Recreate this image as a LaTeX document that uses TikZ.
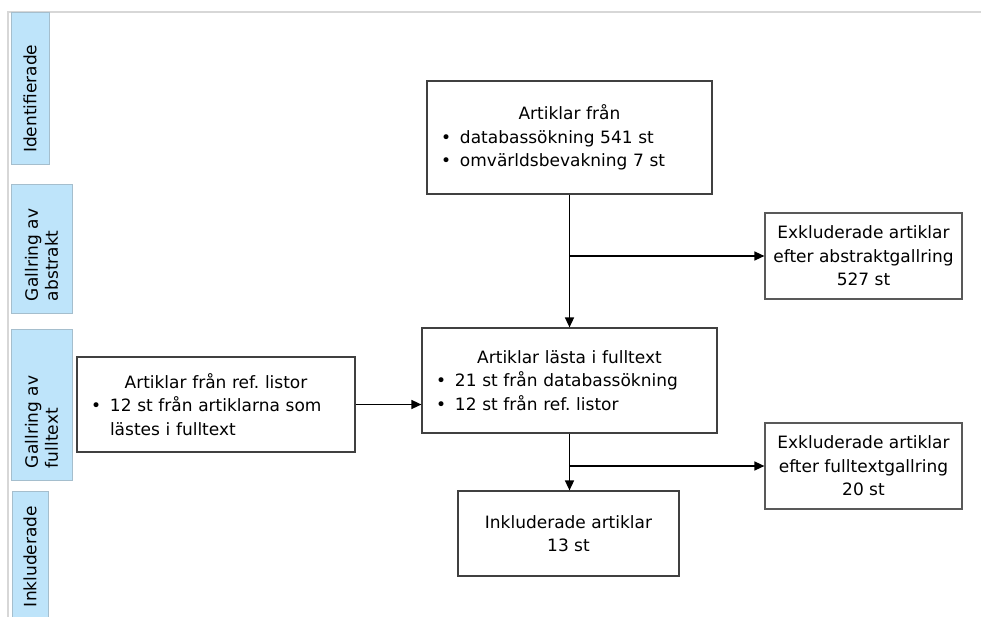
\documentclass[tikz,border=0pt]{standalone}
\usepackage{fontspec}
\setmainfont{DejaVu Sans}
\usetikzlibrary{arrows.meta}
\definecolor{lanefill}{RGB}{190,228,250}
\definecolor{laneline}{RGB}{165,190,205}
\definecolor{frameline}{RGB}{215,215,215}
\newcommand\bul[1]{\par\hangindent=20pt\hangafter=1\noindent\makebox[20pt][l]{\hspace{1pt}\textbullet}#1\par}
\frenchspacing
\begin{document}
\begin{tikzpicture}[x=1pt, y=-1pt,
    every node/.style={font=\fontsize{17}{23.5}\selectfont},
    box/.style={draw=black!75, line width=1.2pt, inner xsep=13pt, inner ysep=0pt},
    lane/.style={rotate=90, fill=lanefill, draw=laneline, line width=1pt,
      inner xsep=12pt, inner ysep=0pt, align=left, font=\fontsize{17}{20}\selectfont},
    link/.style={line width=1.5pt, -{Triangle[length=10pt, width=9pt]}},
    ]
    \useasboundingbox (0,0) rectangle (981,617);
    \draw[frameline, line width=1.5pt] (981,12) -- (8,12) -- (8,617);

    \node[lane, text width=128pt, minimum height=38pt] (ident) at (30,89) {Identifierade};
    \node[lane, text width=104pt, minimum height=61pt] (gabs) at (41.5,249) {Gallring av\\abstrakt};
    \node[lane, text width=127pt, minimum height=61pt] (gfull) at (41.5,404.5) {Gallring av\\fulltext};
    \node[lane, text width=106pt, inner xsep=10pt, minimum height=36pt] (inkl) at (30,554) {Inkluderade};

    \node[box, text width=259pt, minimum height=113pt] (src) at (569.5,137.5)
      {{\centering Artiklar från\par}\bul{databassökning 541 st}\bul{omvärldsbevakning 7 st}};
    \node[box, draw=black!65, align=center, inner xsep=0pt, minimum width=197pt, minimum height=86pt] (excl1) at (863.5,256)
      {Exkluderade artiklar\\efter abstraktgallring\\527 st};
    \node[box, text width=269pt, minimum height=105pt] (full) at (569.5,380.5)
      {{\centering Artiklar lästa i fulltext\par}\bul{21 st från databassökning}\bul{12 st från ref. listor}};
    \node[box, text width=252pt, minimum height=95pt] (ref) at (216,404.5)
      {{\centering Artiklar från ref. listor\par}\bul{12 st från artiklarna som\newline lästes i fulltext}};
    \node[box, draw=black!65, align=center, inner xsep=0pt, minimum width=197pt, minimum height=86pt] (excl2) at (863.5,466)
      {Exkluderade artiklar\\efter fulltextgallring\\20 st};
    \node[box, align=center, inner xsep=0pt, minimum width=221pt, minimum height=85pt] (incl) at (568.5,533.5)
      {Inkluderade artiklar\\13 st};

    \draw[link] (src) -- (full);
    \draw[link] (src.south |- excl1) -- (excl1);
    \draw[link] (ref.east) -- (ref.east -| full.west);
    \draw[link] (full) -- (full.south |- incl.north);
    \draw[link] (full.south |- excl2) -- (excl2);
  \end{tikzpicture}
\end{document}
